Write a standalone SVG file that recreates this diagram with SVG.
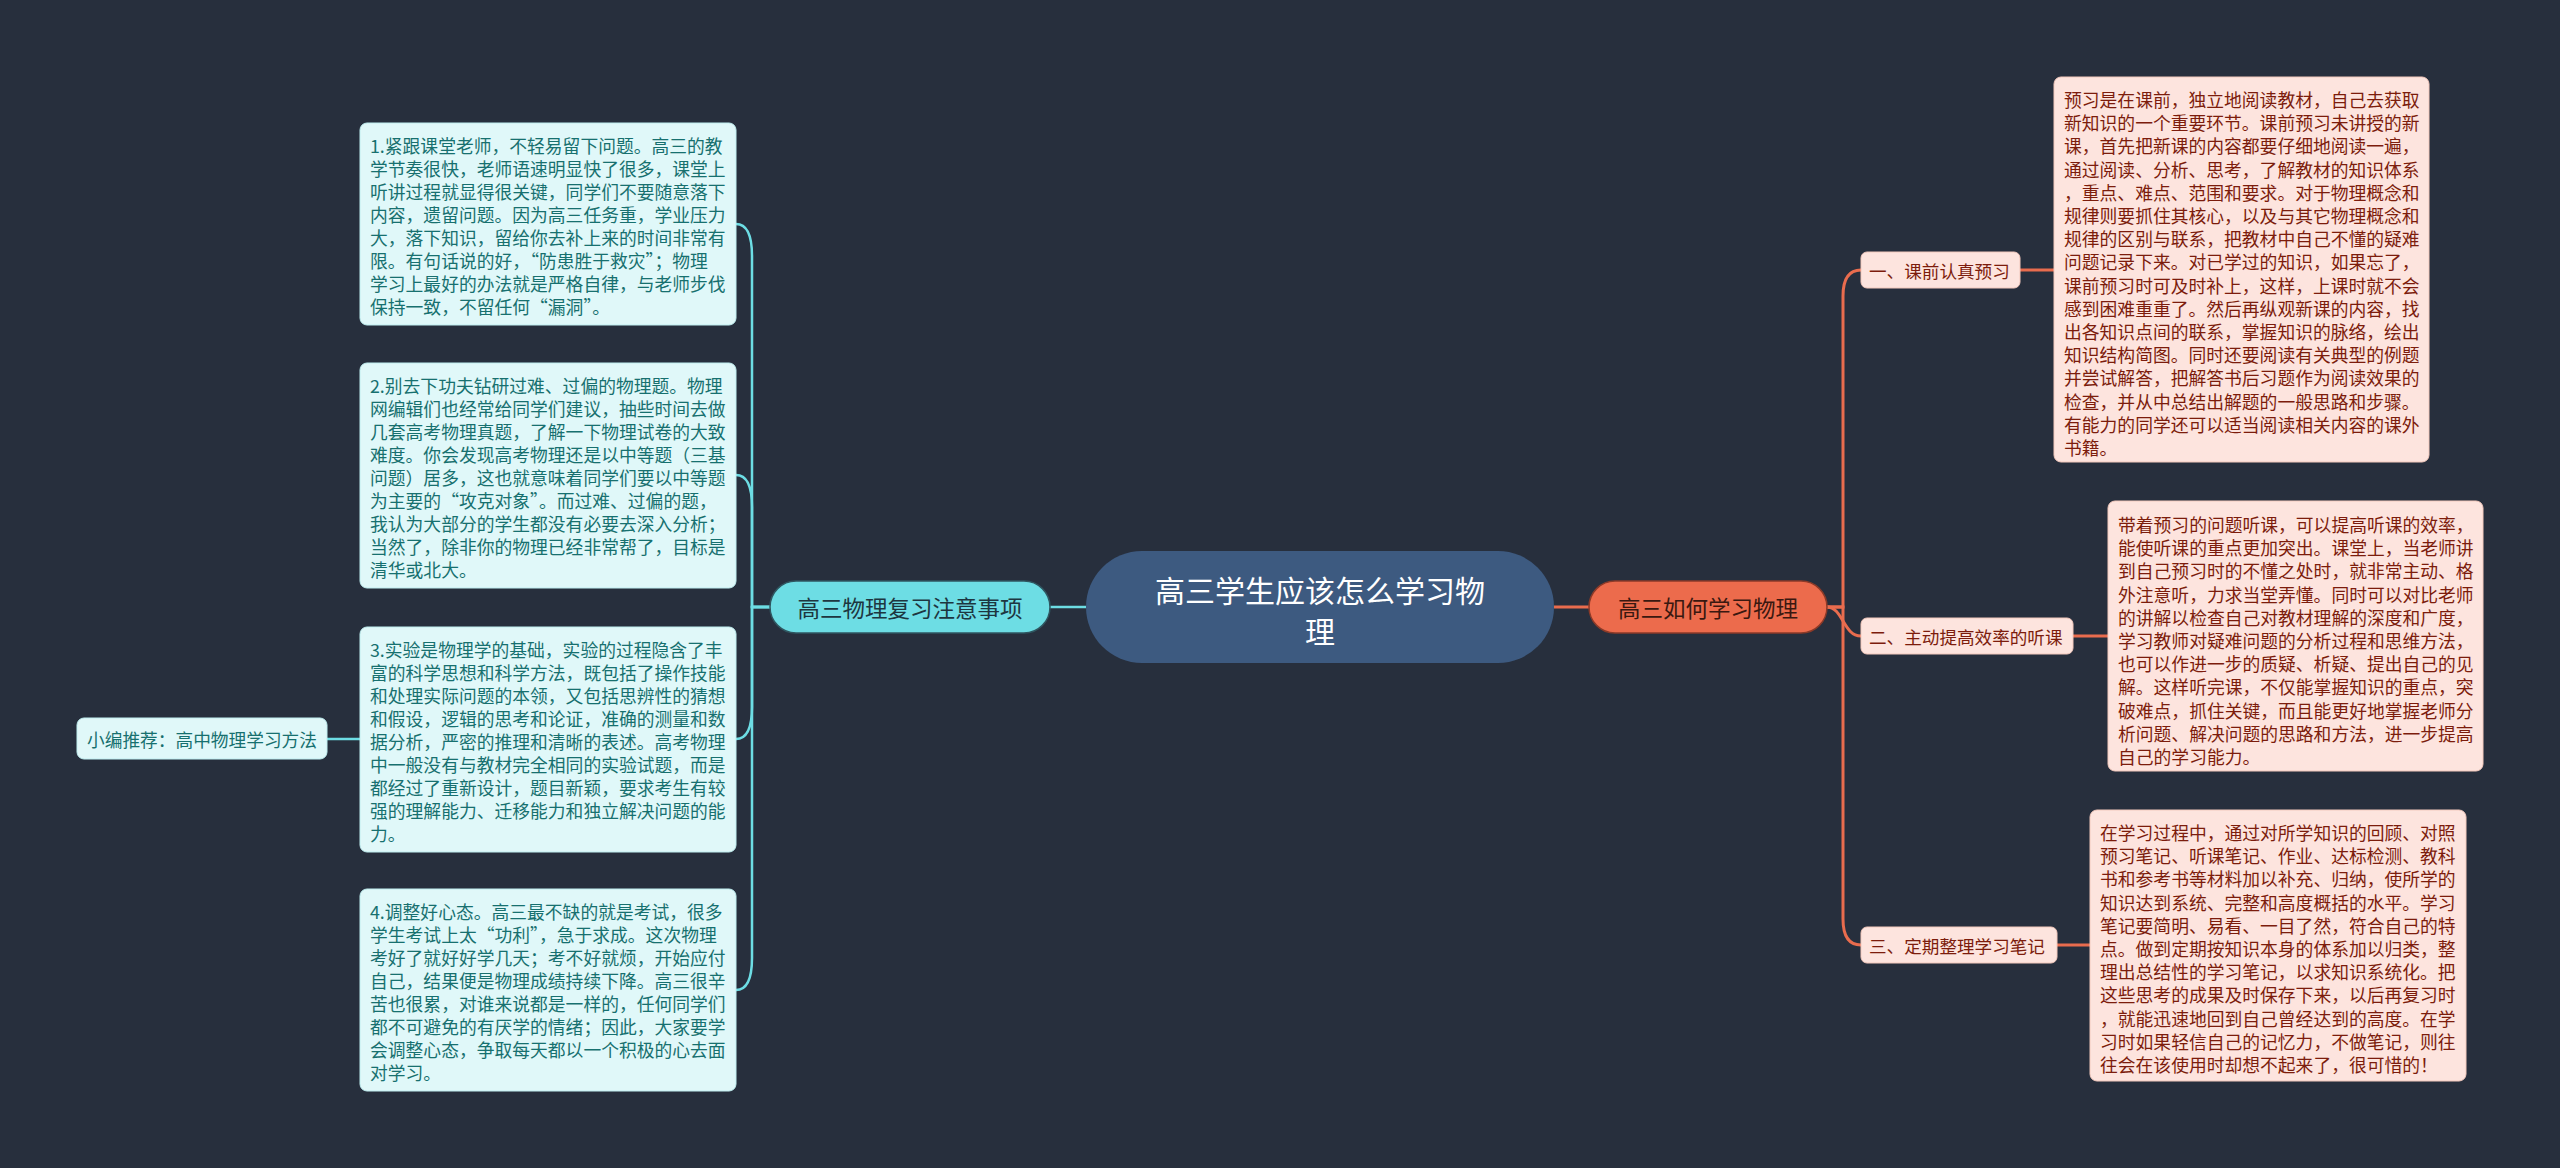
<svg xmlns="http://www.w3.org/2000/svg" width="2560" height="1168" viewBox="0 0 2560 1168">
<style>
text{font-family:"Noto Sans CJK SC","Noto Sans",sans-serif;dominant-baseline:central}
.bl{fill:#e0f8f9;stroke:#bfeef0;stroke-width:1}
.tl{font-size:17.8px;fill:#17706f}
.br{fill:#fde4de;stroke:#f3c9bd;stroke-width:1}
.tr{font-size:17.8px;fill:#7c1c0c}
.cl{fill:none;stroke:#6ddde4;stroke-width:2.5}
.cr{fill:none;stroke:#e96c4e;stroke-width:3}
</style>
<rect width="2560" height="1168" fill="#272f3d"/>
<g id="connectors">
<path class="cl" d="M1086,607 L1050,607"/>
<path class="cr" d="M1554,607 L1589,607"/>
<path class="cl" d="M770,607 L752,607 L752,256 Q752,224 736,224"/>
<path class="cl" d="M770,607 L752,607 L752,507 Q752,475 736,475"/>
<path class="cl" d="M770,607 L752,607 L752,707 Q752,739 736,739"/>
<path class="cl" d="M770,607 L752,607 L752,958 Q752,990 736,990"/>
<path class="cl" d="M360,739 L327,739"/>
<path class="cr" d="M1827,607 L1843,607 L1843,296 Q1843,270 1861,270"/>
<path class="cr" d="M1827,607 C1843,607 1843,636 1861,636"/>
<path class="cr" d="M1827,607 L1843,607 L1843,919 Q1843,945 1861,945"/>
<path class="cr" d="M2020,270 L2054,270"/>
<path class="cr" d="M2073,636 L2108,636"/>
<path class="cr" d="M2057,945 L2090,945"/>
</g>
<g id="root">
<rect x="1086" y="551" width="468" height="112" rx="56" fill="#3d5a80"/>
<text x="1320" y="589" font-size="30" fill="#ffffff" text-anchor="middle">高三学生应该怎么学习物</text>
<text x="1320" y="630" font-size="30" fill="#ffffff" text-anchor="middle">理</text>
</g>
<g id="left-branch">
<rect x="770" y="581" width="280" height="52" rx="26" fill="#6ddde4" stroke="#2f5660" stroke-width="1.5"/>
<text x="910" y="607" font-size="22.5" fill="#1d3640" text-anchor="middle">高三物理复习注意事项</text>
</g>
<g id="right-branch">
<rect x="1589" y="581" width="238" height="52" rx="26" fill="#ec6b4c" stroke="#8c3a28" stroke-width="1.5"/>
<text x="1708" y="607" font-size="22.5" fill="#3a1810" text-anchor="middle">高三如何学习物理</text>
</g>
<g id="left-box-1">
<rect class="bl" x="360" y="123" width="376" height="202" rx="7"/>
<text class="tl" x="370"><tspan x="370" y="145">1.紧跟课堂老师，不轻易留下问题。高三的教</tspan><tspan x="370" y="168">学节奏很快，老师语速明显快了很多，课堂上</tspan><tspan x="370" y="191">听讲过程就显得很关键，同学们不要随意落下</tspan><tspan x="370" y="214">内容，遗留问题。因为高三任务重，学业压力</tspan><tspan x="370" y="237">大，落下知识，留给你去补上来的时间非常有</tspan><tspan x="370" y="260">限。有句话说的好，“防患胜于救灾”；物理</tspan><tspan x="370" y="283">学习上最好的办法就是严格自律，与老师步伐</tspan><tspan x="370" y="306">保持一致，不留任何“漏洞”。</tspan></text>
</g>
<g id="left-box-2">
<rect class="bl" x="360" y="363" width="376" height="225" rx="7"/>
<text class="tl" x="370"><tspan x="370" y="385">2.别去下功夫钻研过难、过偏的物理题。物理</tspan><tspan x="370" y="408">网编辑们也经常给同学们建议，抽些时间去做</tspan><tspan x="370" y="431">几套高考物理真题，了解一下物理试卷的大致</tspan><tspan x="370" y="454">难度。你会发现高考物理还是以中等题（三基</tspan><tspan x="370" y="477">问题）居多，这也就意味着同学们要以中等题</tspan><tspan x="370" y="500">为主要的“攻克对象”。而过难、过偏的题，</tspan><tspan x="370" y="523">我认为大部分的学生都没有必要去深入分析；</tspan><tspan x="370" y="546">当然了，除非你的物理已经非常帮了，目标是</tspan><tspan x="370" y="569">清华或北大。</tspan></text>
</g>
<g id="left-box-3">
<rect class="bl" x="360" y="627" width="376" height="225" rx="7"/>
<text class="tl" x="370"><tspan x="370" y="649">3.实验是物理学的基础，实验的过程隐含了丰</tspan><tspan x="370" y="672">富的科学思想和科学方法，既包括了操作技能</tspan><tspan x="370" y="695">和处理实际问题的本领，又包括思辨性的猜想</tspan><tspan x="370" y="718">和假设，逻辑的思考和论证，准确的测量和数</tspan><tspan x="370" y="741">据分析，严密的推理和清晰的表述。高考物理</tspan><tspan x="370" y="764">中一般没有与教材完全相同的实验试题，而是</tspan><tspan x="370" y="787">都经过了重新设计，题目新颖，要求考生有较</tspan><tspan x="370" y="810">强的理解能力、迁移能力和独立解决问题的能</tspan><tspan x="370" y="833">力。</tspan></text>
</g>
<g id="left-box-4">
<rect class="bl" x="360" y="889" width="376" height="202" rx="7"/>
<text class="tl" x="370"><tspan x="370" y="911">4.调整好心态。高三最不缺的就是考试，很多</tspan><tspan x="370" y="934">学生考试上太“功利”，急于求成。这次物理</tspan><tspan x="370" y="957">考好了就好好学几天；考不好就烦，开始应付</tspan><tspan x="370" y="980">自己，结果便是物理成绩持续下降。高三很辛</tspan><tspan x="370" y="1003">苦也很累，对谁来说都是一样的，任何同学们</tspan><tspan x="370" y="1026">都不可避免的有厌学的情绪；因此，大家要学</tspan><tspan x="370" y="1049">会调整心态，争取每天都以一个积极的心去面</tspan><tspan x="370" y="1072">对学习。</tspan></text>
</g>
<g id="left-small">
<rect class="bl" x="77" y="718" width="250" height="41" rx="7"/>
<text x="87" y="739" font-size="17.7" fill="#17706f">小编推荐：高中物理学习方法</text>
</g>
<g id="right-sub-1">
<rect class="br" x="1861" y="252" width="159" height="36" rx="6"/>
<text x="1869" y="270" font-size="17.6" fill="#7c1c0c">一、课前认真预习</text>
</g>
<g id="right-sub-2">
<rect class="br" x="1861" y="618" width="212" height="36" rx="6"/>
<text x="1869" y="636" font-size="17.6" fill="#7c1c0c">二、主动提高效率的听课</text>
</g>
<g id="right-sub-3">
<rect class="br" x="1861" y="927" width="196" height="36" rx="6"/>
<text x="1869" y="945" font-size="17.6" fill="#7c1c0c">三、定期整理学习笔记</text>
</g>
<g id="right-box-1">
<rect class="br" x="2054" y="77" width="375" height="385" rx="7"/>
<text class="tr"><tspan x="2064" y="99">预习是在课前，独立地阅读教材，自己去获取</tspan><tspan x="2064" y="122.2">新知识的一个重要环节。课前预习未讲授的新</tspan><tspan x="2064" y="145.4">课，首先把新课的内容都要仔细地阅读一遍，</tspan><tspan x="2064" y="168.6">通过阅读、分析、思考，了解教材的知识体系</tspan><tspan x="2064" y="191.8">，重点、难点、范围和要求。对于物理概念和</tspan><tspan x="2064" y="215">规律则要抓住其核心，以及与其它物理概念和</tspan><tspan x="2064" y="238.2">规律的区别与联系，把教材中自己不懂的疑难</tspan><tspan x="2064" y="261.4">问题记录下来。对已学过的知识，如果忘了，</tspan><tspan x="2064" y="284.6">课前预习时可及时补上，这样，上课时就不会</tspan><tspan x="2064" y="307.8">感到困难重重了。然后再纵观新课的内容，找</tspan><tspan x="2064" y="331">出各知识点间的联系，掌握知识的脉络，绘出</tspan><tspan x="2064" y="354.2">知识结构简图。同时还要阅读有关典型的例题</tspan><tspan x="2064" y="377.4">并尝试解答，把解答书后习题作为阅读效果的</tspan><tspan x="2064" y="400.6">检查，并从中总结出解题的一般思路和步骤。</tspan><tspan x="2064" y="423.8">有能力的同学还可以适当阅读相关内容的课外</tspan><tspan x="2064" y="447">书籍。</tspan></text>
</g>
<g id="right-box-2">
<rect class="br" x="2108" y="501" width="375" height="270" rx="7"/>
<text class="tr"><tspan x="2118" y="524">带着预习的问题听课，可以提高听课的效率，</tspan><tspan x="2118" y="547.2">能使听课的重点更加突出。课堂上，当老师讲</tspan><tspan x="2118" y="570.4">到自己预习时的不懂之处时，就非常主动、格</tspan><tspan x="2118" y="593.6">外注意听，力求当堂弄懂。同时可以对比老师</tspan><tspan x="2118" y="616.8">的讲解以检查自己对教材理解的深度和广度，</tspan><tspan x="2118" y="640">学习教师对疑难问题的分析过程和思维方法，</tspan><tspan x="2118" y="663.2">也可以作进一步的质疑、析疑、提出自己的见</tspan><tspan x="2118" y="686.4">解。这样听完课，不仅能掌握知识的重点，突</tspan><tspan x="2118" y="709.6">破难点，抓住关键，而且能更好地掌握老师分</tspan><tspan x="2118" y="732.8">析问题、解决问题的思路和方法，进一步提高</tspan><tspan x="2118" y="756">自己的学习能力。</tspan></text>
</g>
<g id="right-box-3">
<rect class="br" x="2090" y="810" width="376" height="271" rx="7"/>
<text class="tr"><tspan x="2100" y="832">在学习过程中，通过对所学知识的回顾、对照</tspan><tspan x="2100" y="855.2">预习笔记、听课笔记、作业、达标检测、教科</tspan><tspan x="2100" y="878.4">书和参考书等材料加以补充、归纳，使所学的</tspan><tspan x="2100" y="901.6">知识达到系统、完整和高度概括的水平。学习</tspan><tspan x="2100" y="924.8">笔记要简明、易看、一目了然，符合自己的特</tspan><tspan x="2100" y="948">点。做到定期按知识本身的体系加以归类，整</tspan><tspan x="2100" y="971.2">理出总结性的学习笔记，以求知识系统化。把</tspan><tspan x="2100" y="994.4">这些思考的成果及时保存下来，以后再复习时</tspan><tspan x="2100" y="1017.6">，就能迅速地回到自己曾经达到的高度。在学</tspan><tspan x="2100" y="1040.8">习时如果轻信自己的记忆力，不做笔记，则往</tspan><tspan x="2100" y="1064">往会在该使用时却想不起来了，很可惜的！</tspan></text>
</g>
</svg>
